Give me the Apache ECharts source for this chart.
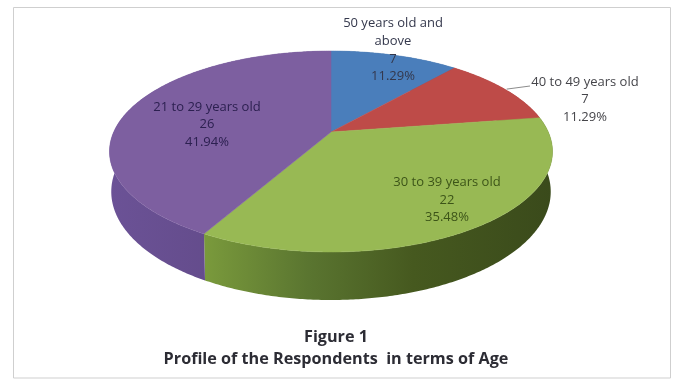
<!DOCTYPE html>
<html>
<head>
<meta charset="utf-8">
<script src="https://cdn.jsdelivr.net/npm/echarts@6/dist/echarts.min.js"></script>
<style>html,body{margin:0;padding:0;background:#fff}#chart{width:674px;height:381px}</style>
</head>
<body>
<div id="chart"></div>
<script>
// Age groups, clockwise from twelve o'clock
const categories = ['50 years old and\nabove', '40 to 49 years old', '30 to 39 years old', '21 to 29 years old'];
const respondents = [7, 7, 22, 26];
const titleLines = ['Figure 1', 'Profile of the Respondents  in terms of Age'];

const topColors = ['#4a7ebb', '#be4b48', '#98b954', '#7d5fa0'];
const labelColors = ['#34384c', '#45454a', '#3c5418', '#2c2050'];
const sideStops = [
  [[0, '#3a6496'], [1, '#3a6496']],
  [[0, '#963a38'], [1, '#963a38']],
  [[0, '#7a9a3c'], [0.3, '#5a7530'], [0.6, '#46591f'], [1, '#3a4a1b']],
  [[0, '#6b5296'], [1, '#5c4580']]
];

// Perspective disc: the near edge of the plate bulges towards the viewer
const disc = { cx: 331, cy: 132, a: 217.3, b: 96.7, k: 0.194, depth: 38.7, shrink: 0.992 };
const labelCentres = [[393, 50], [585, 99.5], [447, 200], [207, 124.5]];
const leaderEnd = [530, 86];

const total = respondents.reduce((s, v) => s + v, 0);
const startAngles = [];
respondents.reduce((acc, v, i) => { startAngles[i] = acc; return acc + v / total * 2 * Math.PI; }, 0);

function rim(theta, lower) {
  const sx = Math.sin(theta), s = -Math.cos(theta), den = 1 - disc.k * s;
  const scale = lower ? disc.shrink : 1;
  return [
    disc.cx + disc.a * sx / den * scale,
    disc.cy + disc.b * s / den + (lower ? disc.depth / den : 0)
  ];
}
function arc(from, to, lower) {
  const n = Math.max(4, Math.ceil((to - from) / 0.01));
  const pts = [];
  for (let i = 0; i <= n; i++) pts.push(rim(from + (to - from) * i / n, lower));
  return pts;
}
function sweep(i, value) {
  const from = startAngles[i];
  return [from, from + value / total * 2 * Math.PI];
}

function renderSide(params, api) {
  const i = params.dataIndex;
  const [from, to] = sweep(i, api.value(0));
  const upper = arc(from, to, false), lower = arc(from, to, true).reverse();
  const xs = upper.map(p => p[0]);
  const x0 = Math.min(...xs), x1 = Math.max(...xs);
  return {
    type: 'polygon',
    shape: { points: upper.concat(lower) },
    style: {
      fill: new echarts.graphic.LinearGradient(x0, 0, x1, 0,
        sideStops[i].map(([offset, color]) => ({ offset, color })), true)
    }
  };
}

function renderTop(params, api) {
  const i = params.dataIndex;
  const [from, to] = sweep(i, api.value(0));
  return {
    type: 'polygon',
    shape: { points: [[disc.cx, disc.cy]].concat(arc(from, to, false)) },
    style: { fill: topColors[i], stroke: topColors[i], lineWidth: 0.5 }
  };
}

function renderLabel(params, api) {
  const i = params.dataIndex;
  const value = api.value(0);
  const [from, to] = sweep(i, value);
  const children = [{
    type: 'text',
    x: labelCentres[i][0],
    y: labelCentres[i][1],
    style: {
      text: categories[i] + '\n' + value + '\n' + (value / total * 100).toFixed(2) + '%',
      fill: labelColors[i],
      font: '13px "Open Sans"',
      lineHeight: 17.7,
      align: 'center',
      verticalAlign: 'middle'
    }
  }];
  if (i === 1) {
    const mid = rim((from + to) / 2, false);
    children.push({
      type: 'line',
      shape: { x1: mid[0] + 2, y1: mid[1], x2: leaderEnd[0], y2: leaderEnd[1] },
      style: { stroke: '#8c8c8c', lineWidth: 1 }
    });
  }
  return { type: 'group', children };
}

const chart = echarts.init(document.getElementById('chart'), null, { renderer: 'canvas' });
chart.setOption({
  animation: false,
  backgroundColor: '#fff',
  title: {
    text: titleLines.join('\n'),
    left: 331,
    top: 321,
    textAlign: 'center',
    textStyle: { fontFamily: 'Open Sans', fontSize: 16.2, fontWeight: 'bold', color: '#2c2c34', lineHeight: 22 }
  },
  graphic: [{
    type: 'rect',
    z: -1,
    shape: { x: 13.5, y: 7.5, width: 657, height: 370.5 },
    style: { fill: '#fff', stroke: '#cfcfcf', lineWidth: 1 }
  }],
  series: [
    { type: 'custom', coordinateSystem: 'none', z: 2, data: respondents, renderItem: renderSide },
    { type: 'custom', coordinateSystem: 'none', z: 3, data: respondents, renderItem: renderTop },
    { type: 'custom', coordinateSystem: 'none', z: 4, data: respondents, renderItem: renderLabel }
  ]
});
</script>
</body>
</html>
